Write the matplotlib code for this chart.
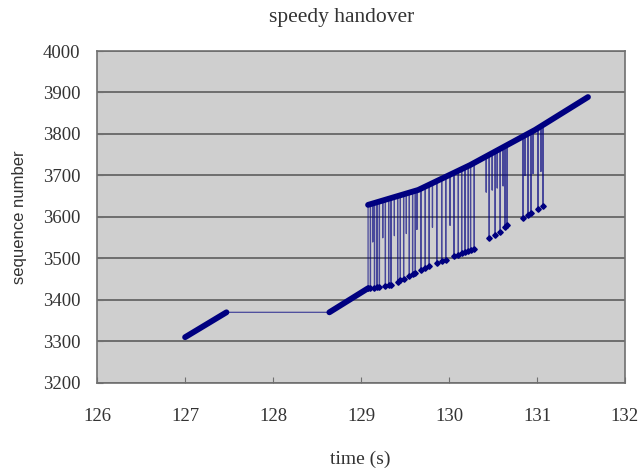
import numpy as np
import matplotlib.pyplot as plt

# dense packet runs (drawn as thick strokes)
run1_t = [127.00, 127.47]
run1_s = [3310, 3370]
run2_t = [128.64, 129.08]
run2_s = [3370, 3428]
upper_t = [129.08, 129.65, 130.24, 130.98, 131.58]
upper_s = [3629, 3665, 3725, 3810, 3889]

# handover bursts: time, upper (new) sequence, lower (retransmitted) sequence
hop_t = [129.080, 129.107, 129.133, 129.153, 129.182, 129.209, 129.247, 129.277,
         129.314, 129.340, 129.379, 129.416, 129.447, 129.484, 129.515, 129.549,
         129.586, 129.617, 129.635, 129.680, 129.730, 129.775, 129.812, 129.861,
         129.917, 129.963, 130.012, 130.058, 130.106, 130.144, 130.182, 130.219,
         130.245, 130.287,
         130.423, 130.457, 130.491, 130.525, 130.548, 130.582, 130.615, 130.638,
         130.661,
         130.842, 130.864, 130.898, 130.932, 130.955, 131.011, 131.045, 131.068]
hop_hi = [3629, 3631, 3632, 3634, 3635, 3637, 3640, 3641,
          3644, 3645, 3648, 3650, 3652, 3654, 3656, 3659,
          3661, 3663, 3664, 3668, 3673, 3678, 3681, 3686,
          3692, 3696, 3701, 3706, 3711, 3715, 3719, 3723,
          3725, 3729,
          3744, 3748, 3752, 3756, 3759, 3763, 3767, 3770,
          3772,
          3794, 3797, 3801, 3805, 3807, 3814, 3818, 3821]
hop_lo = [3428, 3428, 3540, 3429, 3430, 3431, 3550, 3433,
          3435, 3436, 3555, 3443, 3447, 3451, 3560, 3458,
          3462, 3465, 3570, 3472, 3477, 3481, 3575, 3488,
          3493, 3497, 3580, 3505, 3509, 3512, 3515, 3518,
          3520, 3523,
          3660, 3549, 3665, 3557, 3670, 3564, 3675, 3576,
          3581,
          3598, 3700, 3604, 3610, 3705, 3619, 3710, 3626]
# 1 = retransmitted packet shown with a marker
hop_dot = [1, 1, 0, 1, 1, 1, 0, 1,
           1, 1, 0, 1, 1, 1, 0, 1,
           1, 1, 0, 1, 1, 1, 0, 1,
           1, 1, 0, 1, 1, 1, 1, 1,
           1, 1,
           0, 1, 0, 1, 0, 1, 0, 1,
           1,
           1, 0, 1, 1, 0, 1, 0, 1]

# full trace in time order: each retransmission drops down and climbs back
trace_t = run1_t + run2_t
trace_s = run1_s + run2_s
for t, hi, lo in zip(hop_t, hop_hi, hop_lo):
    trace_t += [t, t, t]
    trace_s += [hi, lo, hi]
trace_t += [upper_t[-1]]
trace_s += [upper_s[-1]]

dot_t = [t for t, d in zip(hop_t, hop_dot) if d]
dot_s = [s for s, d in zip(hop_lo, hop_dot) if d]

navy = '#000080'
plt.rcParams['font.family'] = ['Liberation Serif', 'DejaVu Serif']

fig = plt.figure(figsize=(6.39, 4.68), dpi=100)
ax = fig.add_axes([0.152, 0.182, 0.826, 0.709])
ax.set_facecolor('#cfcfcf')

ax.plot(trace_t, trace_s, color=navy, lw=0.9, alpha=0.65, zorder=3)
ax.plot(dot_t, dot_s, 'D', color=navy, ms=2.8, zorder=4)
for rt, rs in [(run1_t, run1_s), (run2_t, run2_s), (upper_t, upper_s)]:
    ax.plot(rt, rs, color=navy, lw=4.2, solid_capstyle='round', zorder=5)

ax.set_xlim(126, 132)
ax.set_ylim(3200, 4000)
ax.set_xticks(np.arange(126, 133, 1))
ax.set_yticks(np.arange(3200, 4001, 100))
ax.yaxis.grid(True, color='#6e6e6e', lw=1.4)
ax.set_axisbelow(True)
for sp in ax.spines.values():
    sp.set_color('#707070')
    sp.set_linewidth(1.2)
ax.tick_params(axis='both', direction='in', length=4, color='#707070',
               labelsize=13.5, colors='#333333')
ax.tick_params(axis='x', pad=18)
ax.tick_params(axis='y', pad=12)

fig.text(0.535, 0.962, 'speedy handover', ha='center', va='center',
         fontsize=15.5, color='#333333')
fig.text(0.563, 0.019, 'time (s)', ha='center', va='center',
         fontsize=14, color='#333333')
fig.text(0.031, 0.535, 'sequence number', ha='center', va='center',
         rotation=90, fontsize=12, color='#333333',
         family=['Liberation Sans', 'DejaVu Sans'])

fig.savefig('out.png', dpi=100)
